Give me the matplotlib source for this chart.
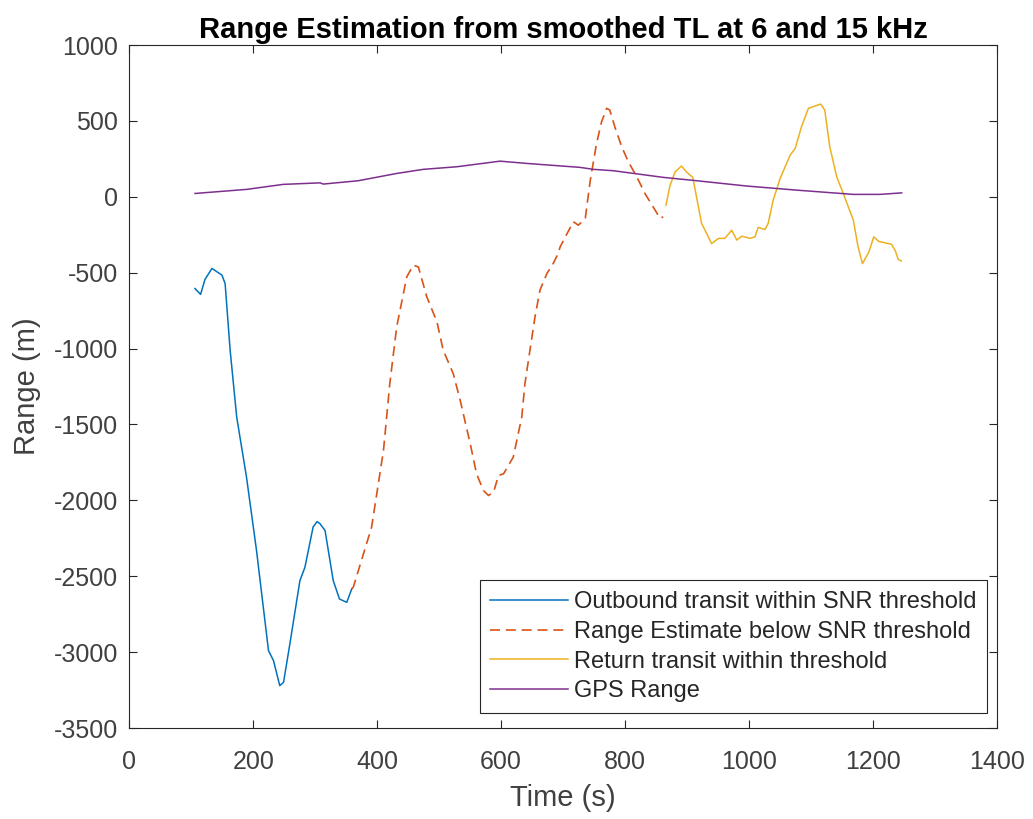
import matplotlib
matplotlib.use("Agg")
import matplotlib.pyplot as plt

plt.rcParams['font.family'] = ['Liberation Sans', 'DejaVu Sans']
plt.rcParams['axes.unicode_minus'] = False

# Outbound transit (blue)
t_out = [105.9, 115, 122, 133.3, 140, 149.5, 154.6, 162.7, 173.3, 189.1, 205.3, 224.6, 232.7,
         242.8, 248.9, 259.1, 275.3, 283.4, 296.6, 303, 307.8, 315.9, 329.1, 339.2, 350.9, 359]
r_out = [-604, -643, -545, -472, -490, -516, -572, -1011, -1451, -1847, -2331, -2990, -3056,
         -3221, -3199, -2946, -2529, -2441, -2176, -2140, -2154, -2199, -2529, -2650, -2672, -2583]

# Range estimate below SNR threshold (orange dashed)
t_low = [359, 361.5, 391, 410.2, 420.4, 431.5, 447.8, 458.4, 466.5, 480.2, 496.5, 506.6,
         522.8, 534, 550.2, 560.4, 571.5, 579.6, 587.8, 595.9, 604, 619.7, 633.4, 638.5,
         646.6, 654.7, 662.8, 674, 684.1, 692.2, 695.3, 716.6, 724.7, 735.9, 744, 754.1,
         762.2, 770.4, 775.4, 783.5, 794.7, 805.4, 819, 832.2, 845.4, 856.6, 861.7]
r_low = [-2583, -2572, -2177, -1671, -1231, -857, -527, -451, -462, -660, -824, -1011,
         -1165, -1341, -1627, -1825, -1935, -1968, -1946, -1836, -1825, -1715, -1451, -1231,
         -1011, -792, -615, -505, -440, -373, -330, -164, -187, -142, 110, 352,
         494, 583, 572, 462, 330, 231, 132, 22, -66, -142, -132]

# Return transit (yellow)
t_ret = [866.2, 872.8, 880.9, 891.1, 899.2, 909.4, 915.4, 923.6, 931.7, 939.8, 951, 961.1,
         972.2, 980.4, 988.5, 1001.6, 1009.8, 1014.9, 1026, 1031.1, 1039.2, 1050.4, 1066.6,
         1074.7, 1084.9, 1096, 1106.7, 1115.8, 1122.4, 1130.5, 1141.7, 1152.3, 1160.4,
         1168.5, 1176.2, 1183.3, 1193.5, 1201.5, 1209.5, 1229.9, 1236, 1241, 1246.1]
r_ret = [-54, 77, 164, 203, 164, 128, 0, -175, -241, -308, -274, -274,
         -220, -285, -259, -274, -264, -202, -215, -175, -22, 121, 275,
         319, 462, 583, 598, 611, 572, 330, 132, 22, -66,
         -153, -330, -440, -365, -264, -294, -312, -352, -413, -423]

# GPS range (purple)
t_gps = [106, 189.5, 248.5, 307.8, 313, 369.6, 431.5, 474.5, 528.4, 598.3, 641.4,
         727.4, 749, 781, 862, 915.8, 996.5, 1077, 1168.5, 1211.6, 1246.6]
r_gps = [22, 49, 82, 92, 84, 106, 154, 181, 198, 235, 220,
         194, 181, 172, 128, 106, 71, 44, 16, 16, 26]

labels = ['Outbound transit within SNR threshold', 'Range Estimate below SNR threshold',
          'Return transit within threshold', 'GPS Range']

fig = plt.figure(figsize=(10.33, 8.19), dpi=100)
ax = fig.add_axes([0.1252, 0.1111, 0.8397, 0.8339])

ax.plot(t_out, r_out, color='#0072BD', lw=1.1, label=labels[0])
ax.plot(t_low, r_low, color='#D95319', lw=1.2, dashes=(6, 3.5), label=labels[1])
ax.plot(t_ret, r_ret, color='#EDB120', lw=1.1, label=labels[2])
ax.plot(t_gps, r_gps, color='#7E2F8E', lw=1.1, label=labels[3])

ax.set_xlim(0, 1400)
ax.set_ylim(-3500, 1000)
ax.set_xticks(range(0, 1401, 200))
ax.set_yticks(range(-3500, 1001, 500))

for s in ax.spines.values():
    s.set_color('#262626')
    s.set_linewidth(0.8)
ax.tick_params(direction='in', length=6, width=0.8, colors='#262626', labelsize=18,
               top=True, right=True)
ax.tick_params(axis='x', pad=16)
ax.tick_params(axis='y', pad=8)
for lab in ax.get_xticklabels() + ax.get_yticklabels():
    lab.set_color('#404040')

ax.set_xlabel('Time (s)', fontsize=21, color='#404040', labelpad=7)
ax.set_ylabel('Range (m)', fontsize=21, color='#404040', labelpad=9)
ax.set_title('Range Estimation from smoothed TL at 6 and 15 kHz', fontsize=21,
             fontweight='bold', pad=5)

leg = ax.legend(loc='lower right', bbox_to_anchor=(0.989, 0.022), borderaxespad=0,
                fontsize=17, fancybox=False, framealpha=1, edgecolor='#262626',
                handlelength=3.3, labelspacing=0.33, borderpad=0.45, handletextpad=0.25)
leg.get_frame().set_linewidth(0.8)
for txt in leg.get_texts():
    txt.set_color('#262626')

fig.savefig('out.png', dpi=100)
